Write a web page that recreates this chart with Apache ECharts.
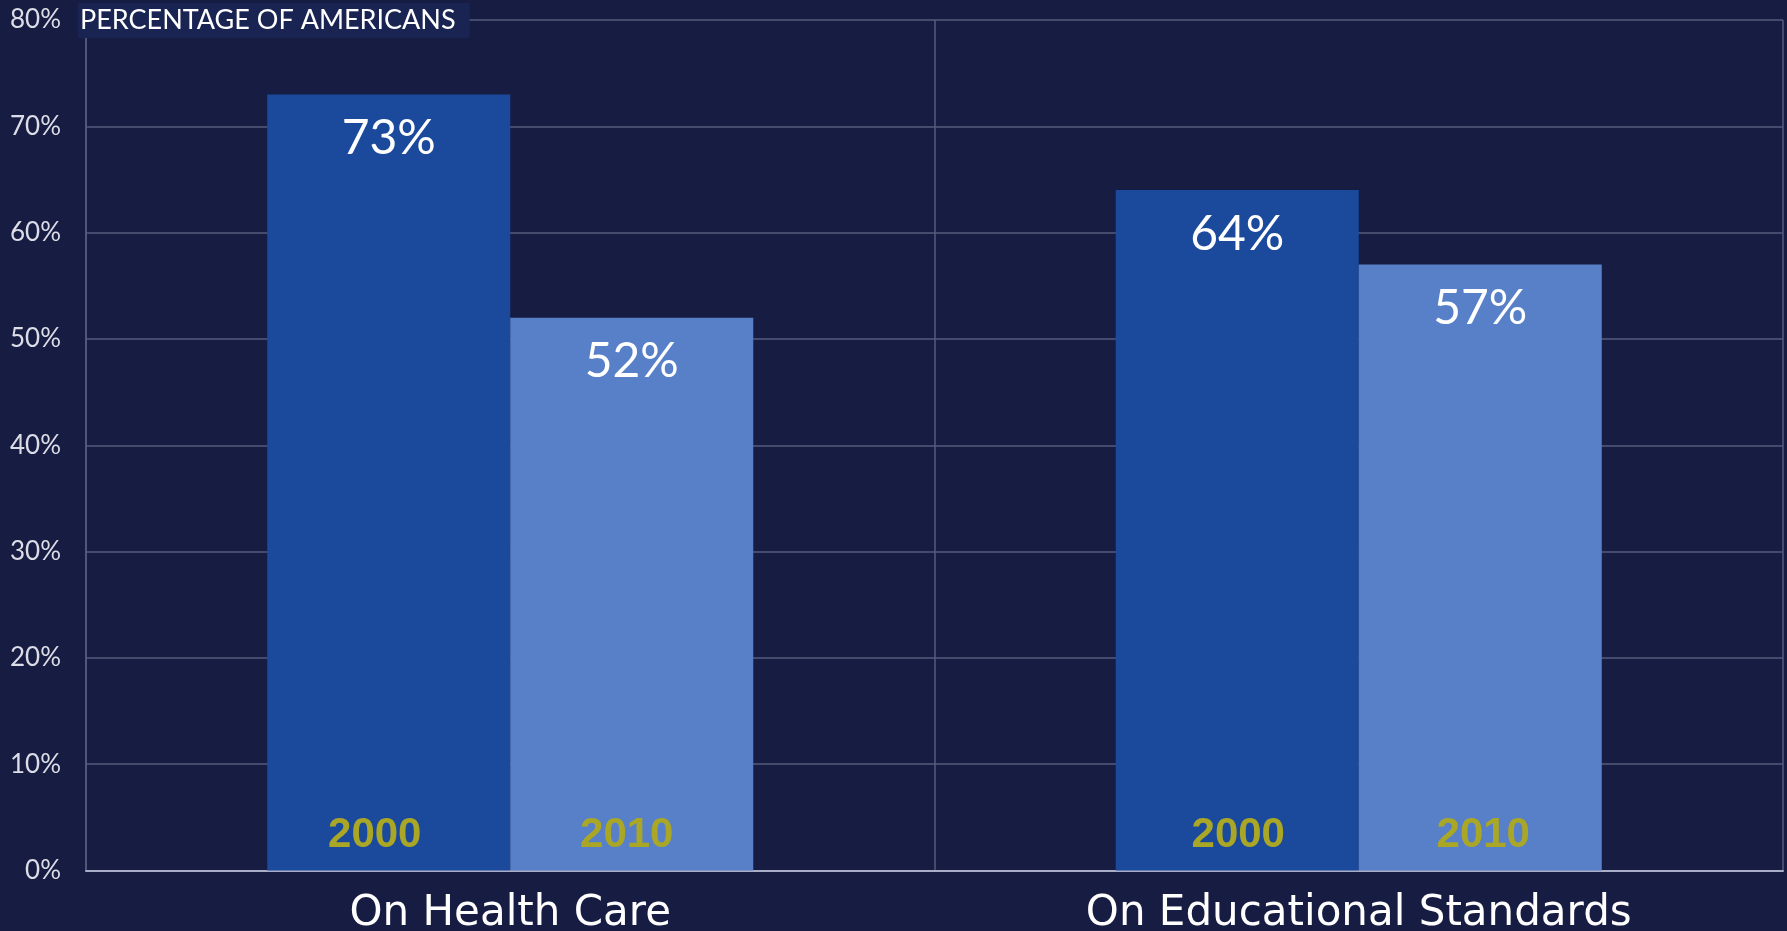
<!DOCTYPE html>
<html>
<head>
<meta charset="utf-8">
<title>Percentage of Americans</title>
<script src="https://cdn.jsdelivr.net/npm/echarts@6/dist/echarts.min.js"></script>
<style>
  html, body { margin: 0; padding: 0; background: #171c42; }
  #chart { width: 1787px; height: 931px; }
</style>
</head>
<body>
<div id="chart"></div>
<script>
// Survey topics along the x axis
const categories = ['On Health Care', 'On Educational Standards'];
// Share of Americans (%) per survey year
const years = ['2000', '2010'];
const values2000 = [73, 64];
const values2010 = [52, 57];
// Value axis ticks
const yMin = 0;
const yMax = 80;
const yStep = 10;

const BG = '#171c42';
const BAR_DARK = '#1b4a9c';
const BAR_LIGHT = '#5880c8';
const YEAR_COLOR = '#aaa726';
const GRID_COLOR = '#565b7c';
const FONT = 'Lato, "Open Sans", sans-serif';

// Small horizontal nudges for the year captions, per bar
const yearNudge2000 = [-14, 1];
const yearNudge2010 = [-5, 3];

const chart = echarts.init(document.getElementById('chart'), null, { renderer: 'canvas' });

const valueLabel = {
  show: true,
  position: 'insideTop',
  distance: 20,
  color: '#ffffff',
  fontFamily: FONT,
  fontSize: 48,
  formatter: p => p.value + '%'
};

const yearLabel = {
  show: true,
  position: 'insideBottom',
  distance: 14,
  color: YEAR_COLOR,
  fontFamily: '"Liberation Sans", Arial, sans-serif',
  fontWeight: 'bold',
  fontSize: 42,
  formatter: '{a}'
};

// Transparent twin bars that only carry the year caption
function captionData(values, nudges) {
  return values.map((v, i) => ({ value: v, label: { offset: [nudges[i], 0] } }));
}

chart.setOption({
  backgroundColor: BG,
  animation: false,
  title: {
    text: 'PERCENTAGE OF AMERICANS',
    left: 78,
    top: 4,
    padding: [4, 14, 4, 2],
    backgroundColor: '#1a2453',
    textStyle: {
      color: '#ffffff',
      fontFamily: FONT,
      fontWeight: 'normal',
      fontSize: 27,
      lineHeight: 25
    }
  },
  grid: {
    left: 86, right: 4, top: 20, bottom: 60.5,
    containLabel: false,
    outerBoundsMode: 'none'
  },
  xAxis: [
    {
      type: 'category',
      data: categories,
      axisTick: { show: false },
      axisLine: { show: true, lineStyle: { color: '#a9adc8', width: 2 } },
      axisLabel: {
        color: '#ffffff',
        fontFamily: '"DejaVu Sans", sans-serif',
        fontSize: 42,
        margin: 23
      },
      splitLine: { show: true, lineStyle: { color: GRID_COLOR, width: 1.5 } }
    },
    {
      type: 'category',
      data: categories,
      show: false
    }
  ],
  yAxis: {
    type: 'value',
    min: yMin,
    max: yMax,
    interval: yStep,
    axisLine: { show: true, lineStyle: { color: GRID_COLOR, width: 1.5 } },
    axisTick: { show: false },
    axisLabel: {
      color: '#dcdde6',
      fontFamily: FONT,
      fontSize: 26,
      margin: 25,
      formatter: '{value}%'
    },
    splitLine: { show: true, lineStyle: { color: GRID_COLOR, width: 1.5 } }
  },
  series: [
    {
      name: years[0],
      type: 'bar',
      xAxisIndex: 0,
      data: values2000,
      barWidth: 243,
      barGap: '0%',
      itemStyle: { color: BAR_DARK },
      label: valueLabel,
      z: 3
    },
    {
      name: years[1],
      type: 'bar',
      xAxisIndex: 0,
      data: values2010,
      barWidth: 243,
      barGap: '0%',
      itemStyle: { color: BAR_LIGHT },
      label: valueLabel,
      z: 3
    },
    {
      name: years[0],
      type: 'bar',
      xAxisIndex: 1,
      data: captionData(values2000, yearNudge2000),
      barWidth: 243,
      barGap: '0%',
      itemStyle: { color: 'rgba(0,0,0,0)' },
      label: yearLabel,
      silent: true,
      z: 4
    },
    {
      name: years[1],
      type: 'bar',
      xAxisIndex: 1,
      data: captionData(values2010, yearNudge2010),
      barWidth: 243,
      barGap: '0%',
      itemStyle: { color: 'rgba(0,0,0,0)' },
      label: yearLabel,
      silent: true,
      z: 4
    }
  ]
});
</script>
</body>
</html>
